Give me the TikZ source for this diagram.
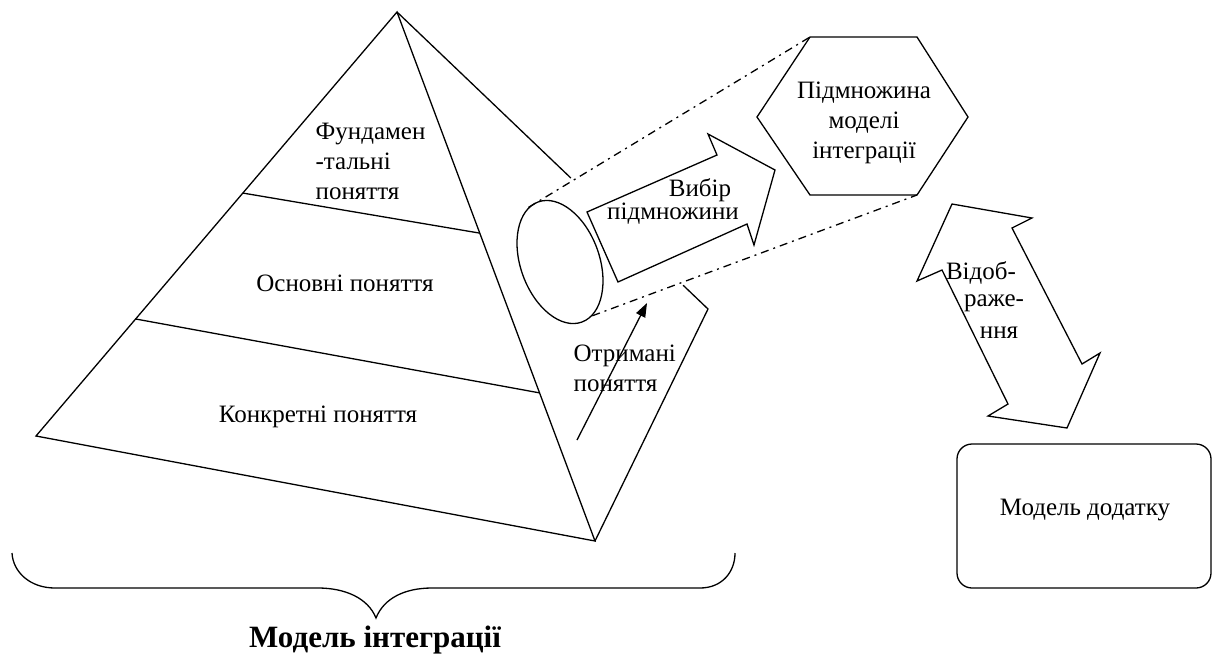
\documentclass[tikz,border=0pt]{standalone}
\usepackage{fontspec}
\setmainfont{Liberation Serif}
\usetikzlibrary{arrows.meta,shapes.geometric,calc}

\begin{document}
\begin{tikzpicture}[x=1pt,y=-1pt,line width=1.3pt,line join=miter,
  txt/.style={font=\fontsize{25}{30}\selectfont,inner sep=0pt},
  title/.style={font=\fontsize{31}{34}\selectfont\bfseries,inner sep=0pt},
  proj/.style={dash pattern=on 8pt off 5pt on 2pt off 5pt}]
\useasboundingbox (0,0) rectangle (1213,657);

% --- pyramid of concepts ---
\coordinate (A) at (397,12);
\coordinate (L) at (36,436);
\coordinate (F) at (595,541);
\coordinate (R) at (708,309);
\draw (A) -- (L) -- (F) -- cycle;
\draw (F) -- (R) -- ($(A)!0.92!(R)$);
\draw (A) -- ($(A)!0.559!(R)$);
\draw ($(A)!0.427!(L)$) -- ($(A)!0.418!(F)$);
\draw ($(A)!0.724!(L)$) -- ($(A)!0.72!(F)$);

\node[txt,align=left,anchor=west] (fund) at (315,161) {Фундамен\\-тальні\\поняття};
\node[txt] (osn) at (345,283) {Основні поняття};
\node[txt] (konk) at (318,417) {Конкретні поняття};
\node[txt,align=left,anchor=west] (otr) at (573,368) {Отримані\\поняття};

% --- derived concepts arrow ---
\coordinate (otrstart) at (577,440);
\coordinate (otrend) at (647,303);
\draw[-{Triangle[length=14pt,width=10pt]}] (otrstart) -- (otrend);

% --- subset hexagon ---
\coordinate (h1) at (757,117);
\coordinate (h2) at (810,37);
\coordinate (h3) at (917,37);
\coordinate (h4) at (968,117);
\coordinate (h5) at (917,195);
\coordinate (h6) at (810,195);
\draw (h1) -- (h2) -- (h3) -- (h4) -- (h5) -- (h6) -- cycle;
\node[txt,align=center] (hex) at (864,123) {Підмножина\\моделі\\інтеграції};

% --- selection cylinder ---
\node[draw,ellipse,inner sep=0pt,minimum width=78.8pt,minimum height=127.8pt,
      rotate=20] (cyl) at (560,262) {};
\draw[proj] (cyl.100) -- (h2);
\draw[proj] (cyl.-79) -- (h5);

% --- selection block arrow ---
\draw (587,212) -- (618,282) -- (747,224) -- (754,245) -- (775,170)
      -- (708,134) -- (717,155) -- cycle;
\node[txt] (vyb1) at (700,190) {Вибір};
\node[txt] (vyb2) at (673,214) {підмножини};

% --- mapping double arrow ---
\draw (952,204) -- (1032,218) -- (1012,228) -- (1082,364) -- (1100,353)
      -- (1067,428) -- (988,416) -- (1008,404) -- (942,270) -- (917,281) -- cycle;
\node[txt] (vid1) at (981,273) {Відоб-};
\node[txt] (vid2) at (994,303) {раже-};
\node[txt] (vid3) at (999,333) {ння};

% --- application model ---
\draw[rounded corners=15pt] (957,444) rectangle (1211,588);
\node[txt] (app) at (1085,510) {Модель додатку};

% --- brace under the integration model ---
\draw (12,553) .. controls (13,572) and (30,588) .. (55,588) -- (318,588)
      .. controls (345,588) and (368,598) .. (376,618)
      .. controls (384,598) and (405,588) .. (432,588) -- (700,588)
      .. controls (722,588) and (735,572) .. (735,553);
\node[title] (model) at (375,640) {Модель інтеграції};
\end{tikzpicture}
\end{document}
